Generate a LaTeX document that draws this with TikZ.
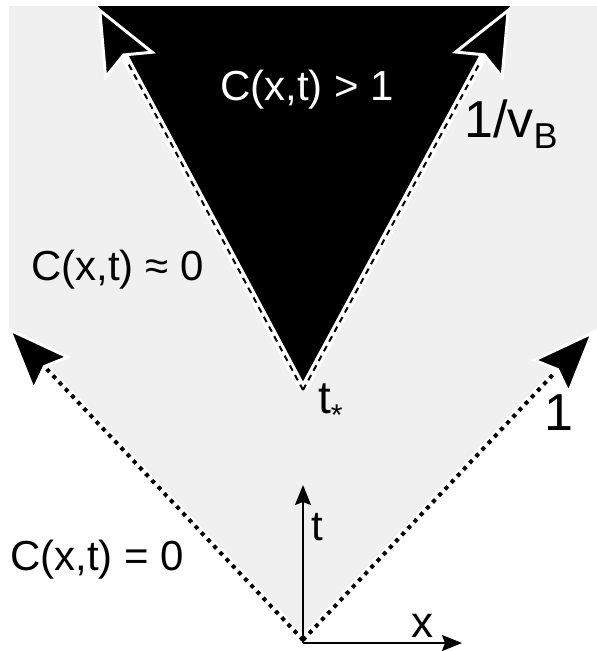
\documentclass[tikz,border=0pt]{standalone}
\usepackage{fontspec}
\setmainfont{Liberation Sans}
\usetikzlibrary{arrows.meta}
\definecolor{bggray}{HTML}{F0F0F0}

\begin{document}
\begin{tikzpicture}[
    x=1pt, y=-1pt,
    lbl/.style={text=black, inner sep=0pt, anchor=base west, font=\fontsize{42}{50}\selectfont},
    halo/.style={white, line width=8pt},
    conehead/.style={-{Stealth[length=66pt, width=52pt, inset=10pt, fill=black, line width=3pt]}},
    tophead/.style={-{Stealth[length=68pt, width=58pt, inset=12pt, fill=black, line width=3pt]}},
    dots/.style={black, line width=4pt, dash pattern=on 4pt off 5pt},
    dashes/.style={black, line width=2pt, dash pattern=on 6pt off 5pt},
    axis/.style={-{Stealth[length=20pt, width=16pt, inset=3pt]}, black, line width=2pt}
]
\useasboundingbox (0,0) rectangle (597,651);

% ---------- Points ----------
\coordinate (O)  at (303,640);
\coordinate (L)  at (7,327);
\coordinate (R)  at (595,330);
\coordinate (A)  at (303,390);
\coordinate (TL) at (98,7);
\coordinate (TR) at (510,7);

% ---------- Regions ----------
\fill[bggray] (O) -- (9,329) -- (9,6) -- (597,6) -- (597,328) -- cycle;
\fill[black] (A) -- (98,6) -- (510,6) -- cycle;

% ---------- Fronts of the black region ----------
\draw[halo, tophead] (A) -- (TL);
\draw[halo, tophead] (A) -- (TR);
\draw[dashes, shorten >=62pt] (A) -- (TL);
\draw[dashes, shorten >=62pt] (A) -- (TR);

% ---------- Light cone ----------
\draw[halo, conehead] (O) -- (L);
\draw[halo, conehead] (O) -- (R);
\draw[dots, shorten >=58pt] (O) -- (L);
\draw[dots, shorten >=58pt] (O) -- (R);

% ---------- Axes ----------
\coordinate (ax0) at (303,643);
\coordinate (tend) at (303,485);
\coordinate (xend) at (462,643);
\draw[axis] (ax0) -- (tend);
\draw[axis] (ax0) -- (xend);

% ---------- Labels ----------
\node[lbl, text=white] (gtlbl) at (220,100) {C(x,t) > 1};
\node[lbl] (approxlbl) at (31,280) {C(x,t) ≈ 0};
\node[lbl] (zerolbl) at (10,570) {C(x,t) = 0};
\node[lbl, font=\fontsize{52}{60}\selectfont] (vblbl) at (464,137)
    {1/v\raisebox{-11pt}{\fontsize{36}{42}\selectfont B}};
\node[lbl, font=\fontsize{52}{60}\selectfont] (onelbl) at (544,430) {1};
\node[lbl, font=\fontsize{46}{54}\selectfont] (tstar) at (318,413)
    {t\raisebox{-12pt}{\fontsize{30}{34}\selectfont *}};
\node[lbl, font=\fontsize{42}{50}\selectfont] (tlbl) at (311,540) {t};
\node[lbl, font=\fontsize{44}{52}\selectfont] (xlbl) at (411,637) {x};

\end{tikzpicture}
\end{document}
